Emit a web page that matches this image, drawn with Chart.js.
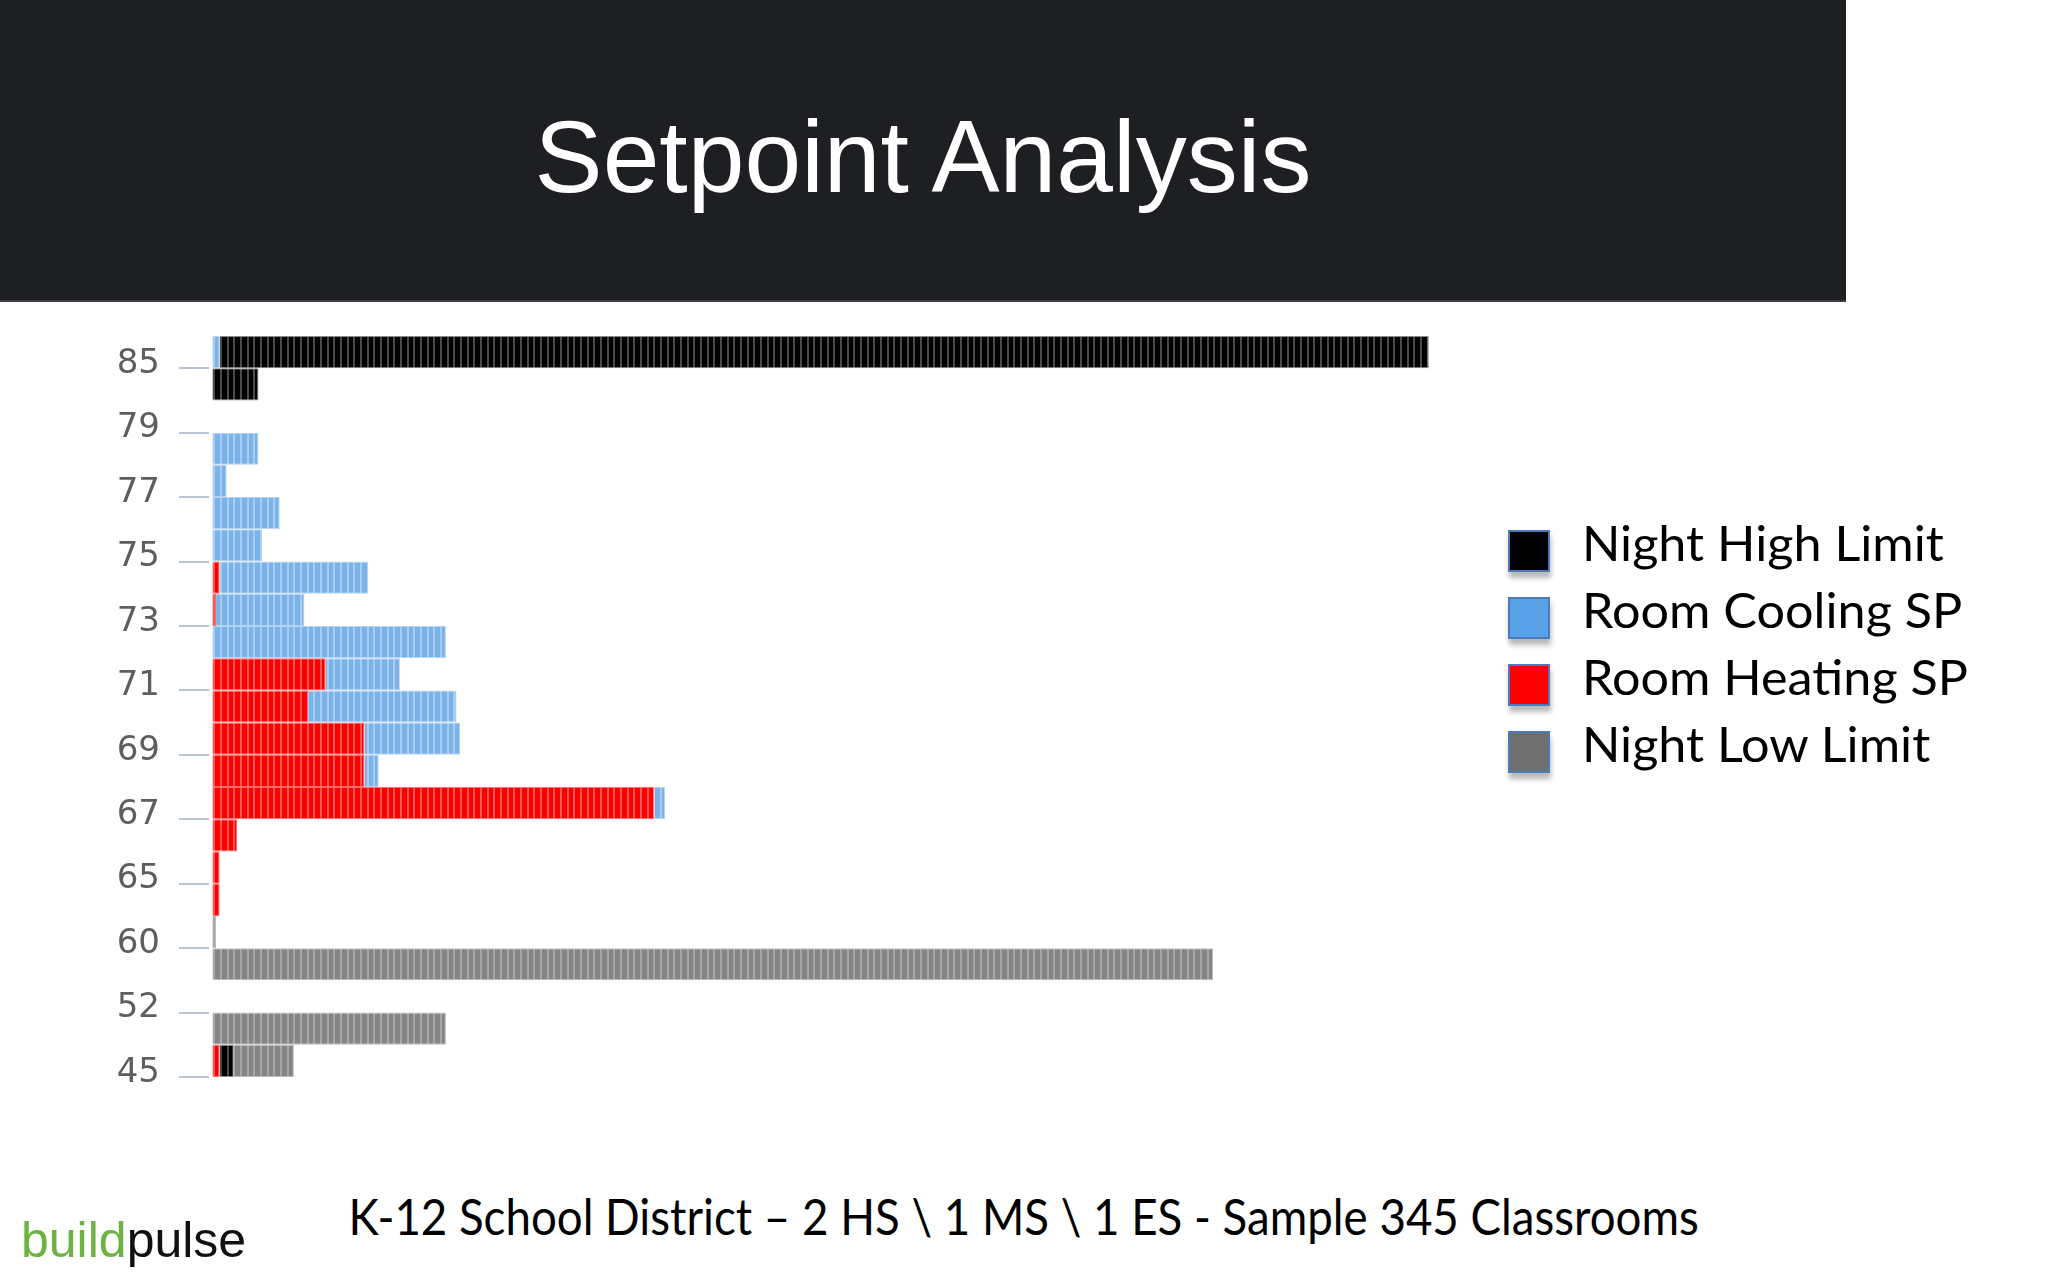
<!DOCTYPE html>
<html>
<head>
<meta charset="utf-8">
<title>Setpoint Analysis</title>
<script src="https://cdn.jsdelivr.net/npm/chart.js@4.4.1/dist/chart.umd.min.js"></script>
<style>
  html, body { margin: 0; padding: 0; background: #fff; }
  body { width: 2048px; height: 1280px; position: relative; overflow: hidden; }
  #header {
    position: absolute; left: 0; top: 0; width: 1846px; height: 302px;
    background: #1e1f23; border-bottom: 2px solid #3d3e42; box-sizing: border-box;
  }
  #title {
    position: absolute; left: 0; top: 106px; width: 1846px; text-align: center;
    color: #fff; font: 102px/102px "Liberation Sans", Arial, sans-serif;
  }
  #chartBox { position: absolute; left: 0; top: 320px; width: 1460px; height: 780px; }
  #legend { position: absolute; left: 1508px; top: 530px; }
  .item { position: absolute; left: 0; height: 42px; white-space: nowrap; }
  .swatch {
    position: absolute; left: 0; top: 0; width: 42px; height: 42px; box-sizing: border-box;
    border: 2px solid #4a7bbd; box-shadow: 1px 6px 5px rgba(0,0,0,0.28);
  }
  .text {
    position: absolute; left: 74px; top: -11px; color: #000;
    font: 48px/48px Lato, "Open Sans", sans-serif; transform-origin: 0 0; display: inline-block;
  }
  #logo {
    position: absolute; left: 21px; top: 1215px;
    font: 50px/50px "Liberation Sans", Arial, sans-serif; color: #111;
  }
  #logo span { color: #6db33f; }
  #caption {
    position: absolute; left: 0; top: 1191px; width: 2048px; text-align: center;
  }
  #caption span {
    display: inline-block; font: 50px/50px Lato, "Open Sans", sans-serif; color: #000;
    transform-origin: 50% 0; white-space: nowrap;
  }
</style>
</head>
<body>
<div id="header"><div id="title">Setpoint Analysis</div></div>
<div id="chartBox"><canvas id="setpointChart" width="1460" height="780"></canvas></div>
<div id="legend"></div>
<div id="logo"><span>build</span>pulse</div>
<div id="caption"><span id="captionText">K-12 School District – 2 HS \ 1 MS \ 1 ES - Sample 345 Classrooms</span></div>

<script>
// setpoint bins, top to bottom (labels sit on every other bin boundary)
const categories = ['85', '', '79', '', '77', '', '75', '', '73', '', '71', '',
                    '69', '', '67', '', '65', '', '60', '', '52', '', '45'];

// number of classrooms per bin, in stacking order (left to right)
const heatingSP  = [0, 0, 0, 0, 0, 0, 0, 2, 1, 0, 32, 27, 43, 43, 125, 7, 2, 2, 0, 0, 0, 0, 2];
const coolingSP  = [2, 0, 0, 13, 4, 19, 14, 42, 25, 66, 21, 42, 27, 4, 3, 0, 0, 0, 0, 0, 0, 0, 0];
const nightHigh  = [342, 13, 0, 0, 0, 0, 0, 0, 0, 0, 0, 0, 0, 0, 0, 0, 0, 0, 0, 0, 0, 0, 4];
const nightLow   = [0, 0, 0, 0, 0, 0, 0, 0, 0, 0, 0, 0, 0, 0, 0, 0, 0, 0, 1, 283, 0, 66, 17];

const seriesNames = ['Room Heating SP', 'Room Cooling SP', 'Night High Limit', 'Night Low Limit'];
const seriesData = [heatingSP, coolingSP, nightHigh, nightLow];
const barColors = [['#ff0000', '#ff5656'], ['#79b3ea', '#a9cdf2'], ['#000000', '#4a4a4a'], ['#858585', '#a7a7a7']];
const edgeColors = ['#ff6a6a', '#b5d3f2', '#8a8a8a', '#bdbdbd'];
const legendColors = ['#ff0000', '#5aa0e6', '#000000', '#6f6f6f'];
const legendOrder = [2, 1, 0, 3];

// striped fill like the original screenshot
function stripes(base, line) {
  const c = document.createElement('canvas');
  c.width = 20; c.height = 8;
  const g = c.getContext('2d');
  g.fillStyle = base;
  g.fillRect(0, 0, 20, 8);
  g.fillStyle = line;
  [0, 7, 13].forEach(x => g.fillRect(x, 0, 2, 8));
  return g.createPattern(c, 'repeat');
}

const datasets = seriesNames.map((name, i) => ({
  label: name,
  data: seriesData[i].map(v => v || null),   // empty bins draw nothing
  backgroundColor: stripes(barColors[i][0], barColors[i][1]),
  borderColor: edgeColors[i],
  borderWidth: 1,
  inflateAmount: 0,
  legendColor: legendColors[i],
  barPercentage: 1,
  categoryPercentage: 1
}));

const chart = new Chart(document.getElementById('setpointChart'), {
  type: 'bar',
  data: { labels: categories, datasets: datasets },
  options: {
    indexAxis: 'y',
    responsive: false,
    animation: false,
    layout: { padding: { top: 16, bottom: 23, right: 10, left: 0 } },
    plugins: { legend: { display: false }, tooltip: { enabled: false } },
    scales: {
      x: { stacked: true, min: -1, max: 350, display: false },
      y: {
        stacked: true,
        border: { display: false },
        grid: {
          offset: true,
          drawOnChartArea: false,
          tickLength: 30,
          lineWidth: 2,
          color: ctx => (ctx.index === undefined || ctx.index % 2 === 1) ? '#b8c4d1' : 'rgba(0,0,0,0)'
        },
        ticks: {
          autoSkip: false,
          padding: 19,
          labelOffset: 12,
          color: '#5e5e5e',
          font: { family: 'DejaVu Sans', size: 34 }
        },
        afterFit: scale => {
          scale.width = 209;
          scale.paddingTop = 0;
          scale.paddingBottom = 0;
        }
      }
    }
  }
});

// legend built from the chart's datasets
const legend = document.getElementById('legend');
legendOrder.forEach((idx, row) => {
  const ds = chart.data.datasets[idx];
  const item = document.createElement('div');
  item.className = 'item';
  item.style.top = (row * 67) + 'px';
  item.innerHTML = '<div class="swatch" style="background:' + ds.legendColor + '"></div>' +
                   '<span class="text">' + ds.label + '</span>';
  legend.appendChild(item);
});

// Calibri-like narrow text: squeeze to the widths of the original
const texts = legend.querySelectorAll('.text');
const sx = 362 / texts[0].offsetWidth;
texts.forEach(t => { t.style.transform = 'scaleX(' + sx + ')'; });

const cap = document.getElementById('captionText');
cap.style.transform = 'scaleX(' + (1350 / cap.offsetWidth) + ')';
</script>
</body>
</html>
